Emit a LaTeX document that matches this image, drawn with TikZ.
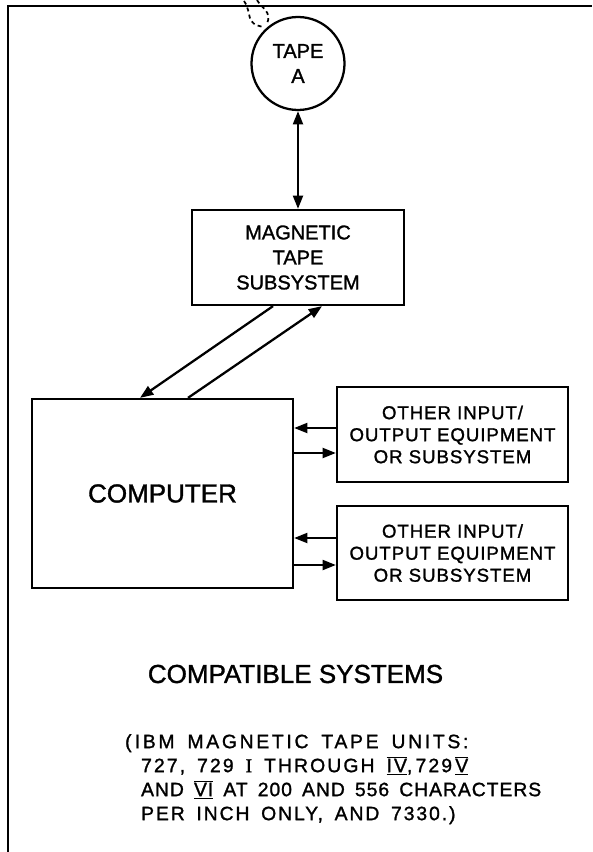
\documentclass[tikz,border=0pt]{standalone}
\usepackage{fontspec}
\setmainfont[FakeBold=1.3]{Liberation Sans}
\newfontfamily\widefont[FakeBold=1.3,LetterSpace=5]{Liberation Sans}
\newfontfamily\notefont[FakeBold=1.3,WordSpace=1.6]{Liberation Sans}
\newfontfamily\serifletter[FakeBold=1.3]{Liberation Serif}
\newcommand\barred[1]{\ensuremath{\overline{\underline{\hbox{#1}}}}}
\newcommand\track[2]{{\addfontfeature{LetterSpace=#1}#2}}
\usetikzlibrary{arrows.meta,calc}

\begin{document}
\begin{tikzpicture}[x=0.75pt, y=-0.75pt, line width=1.7pt,
  >={Triangle[length=10pt,width=7.5pt]}]
\def\block{node [draw, align=center, inner sep=0] }
\useasboundingbox (0,0) rectangle (592,852);

\draw (8,852) -- (8,6) -- (592,6);

\draw (298,63.5) \block [circle, minimum size=69.75pt, font=\fontsize{15}{18.75}\selectfont] (tape) {TAPE\\A};
\draw (298,257.5) \block [minimum width=159pt, minimum height=71.25pt, font=\fontsize{15}{18.75}\selectfont] (mts) {MAGNETIC\\TAPE\\SUBSYSTEM};
\draw (162.5,493.5) \block [minimum width=195.75pt, minimum height=141.75pt, font=\fontsize{19.5}{23}\selectfont] (comp) {COMPUTER};
\draw (452.5,434.5) \block [minimum width=173.25pt, minimum height=71.25pt, font={\widefont\fontsize{14}{16.5}\selectfont}] (io1) {OTHER INPUT/\\OUTPUT EQUIPMENT\\OR SUBSYSTEM};
\draw (452.5,553) \block [minimum width=173.25pt, minimum height=70.5pt, font={\widefont\fontsize{14}{16.5}\selectfont}] (io2) {OTHER INPUT/\\OUTPUT EQUIPMENT\\OR SUBSYSTEM};

\draw [dash pattern=on 3pt off 2.5pt, line width=1.3pt] (244,1) .. controls (253,14) and (244,24) .. (264,27);
\draw [dash pattern=on 3pt off 2.5pt, line width=1.3pt] (257,0) .. controls (262,9) and (272,11) .. (267,24);

\draw [<->] (tape) -- (mts);
\draw [->] ($(mts.south)+(-25,0)$) -- ($(comp.north)+(-22.5,0)$);
\draw [->] ($(comp.north)+(25.5,0)$) -- ($(mts.south)+(24,0)$);
\draw [->] ($(io1.west)+(0,-6.5)$) -- ($(comp.east |- io1.west)+(0,-6.5)$);
\draw [->] ($(comp.east |- io1.west)+(0,18.5)$) -- ($(io1.west)+(0,18.5)$);
\draw [->] ($(io2.west)+(0,-15)$) -- ($(comp.east |- io2.west)+(0,-15)$);
\draw [->] ($(comp.east |- io2.west)+(0,12)$) -- ($(io2.west)+(0,12)$);

\node [font=\fontsize{19.5}{23}\selectfont] (caption) at (295.5,674) {COMPATIBLE SYSTEMS};
\node [anchor=north west, align=left, inner sep=0, font={\notefont\fontsize{14.5}{18}\selectfont}] (units) at (140,733)
  {\hspace*{-12pt}\track{14}{(\,IBM MAGNETIC TAPE UNITS:}\\
   \track{11}{727, 729 {\serifletter I} THROUGH \barred{IV},\,729\,\barred{V}}\\
   \track{5}{AND \barred{VI} AT 200 AND 556 CHARACTERS}\\
   \track{10}{PER INCH ONLY, AND 7330.)}};
\end{tikzpicture}
\end{document}
